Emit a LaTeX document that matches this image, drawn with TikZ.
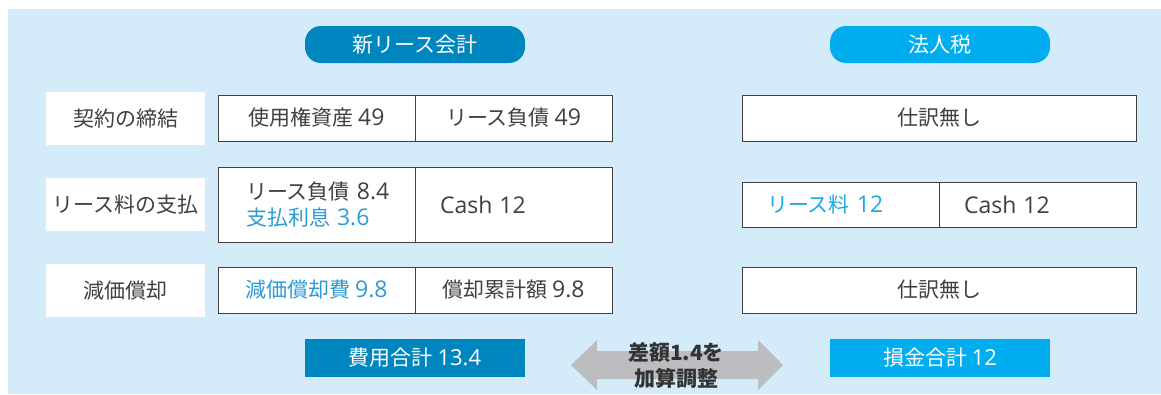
\documentclass[tikz,border=0pt]{standalone}
\usepackage{fontspec}
\setmainfont{Noto Sans CJK JP}
\newfontfamily\latn{Open Sans}
\newcommand{\lnum}[2][23]{{\latn\fontsize{#1}{26}\selectfont #2}}
\definecolor{bgblue}{HTML}{D4ECF9}
\definecolor{leasedark}{HTML}{0086BE}
\definecolor{taxcyan}{HTML}{00AEEF}
\definecolor{linegray}{HTML}{404040}
\definecolor{txtgray}{HTML}{404040}
\definecolor{bluetxt}{HTML}{2E9BD6}
\definecolor{cyantxt}{HTML}{1BA8E5}
\definecolor{arrowgray}{HTML}{BCBDC0}
\begin{document}
\begin{tikzpicture}[x=1pt, y=-1pt, font=\fontsize{21}{26}\selectfont, every node/.style={outer sep=0pt, inner sep=0pt, anchor=north west, text=txtgray}, line join=miter,
    entry/.style={draw=linegray, line width=1pt, fill=white, minimum width=197pt, minimum height=46pt},
    rowhead/.style={fill=white, minimum width=159pt, minimum height=53pt},
    pill/.style={rounded corners=16pt, minimum width=220pt, minimum height=37pt, text=white},
    total/.style={minimum width=220pt, minimum height=38pt, text=white}]
        \useasboundingbox (0,0) rectangle (1161,394);
        \fill[bgblue] (8,9) rectangle (1161,394);
        \node[pill, fill=leasedark] (newhead) at (305,26) {新リース会計};
        \node[pill, fill=taxcyan] (taxhead) at (830,26) {法人税};
        \node[rowhead] (rconclude) at (46,92) {契約の締結};
        \node[rowhead] (rpay) at (46,178) {リース料の支払};
        \node[rowhead] (rdep) at (46,264) {減価償却};
        \node[entry] (n1a) at (218,95) {使用権資産 \lnum{49}};
        \node[entry] (n1b) at (415,95) {リース負債 \lnum{49}};
        \node[entry, minimum height=75pt, text width=141pt, inner xsep=28pt, align=left] (n2a) at (218,167) {\mbox{リース負債 \lnum{8.4}}\\\mbox{\textcolor{bluetxt}{支払利息 \lnum{3.6}}}};
        \node[entry, minimum height=75pt, text width=147pt, inner xsep=25pt, align=left] (n2b) at (415,167) {\lnum{Cash 12}};
        \node[entry, text=bluetxt] (n3a) at (218,267) {減価償却費 \lnum{9.8}};
        \node[entry] (n3b) at (415,267) {償却累計額 \lnum{9.8}};
        \node[entry, minimum width=394pt] (t1) at (742,95) {仕訳無し};
        \node[entry, minimum height=45pt, text width=147pt, inner xsep=25pt, align=left, text=cyantxt] (t2a) at (742,182) {リース料 \lnum{12}};
        \node[entry, minimum height=45pt, text width=147pt, inner xsep=25pt, align=left] (t2b) at (939,182) {\lnum{Cash 12}};
        \node[entry, minimum width=394pt] (t3) at (742,267) {仕訳無し};
        \node[total, fill=leasedark] (newsum) at (305,339) {費用合計 \lnum[22]{13.4}};
        \node[total, fill=taxcyan] (taxsum) at (830,339) {損金合計 \lnum[22]{12}};
        \coordinate (gapl) at (571,365);
        \fill[arrowgray] (gapl) -- ++(26,-25) -- ++(0,11) -- ++(161,0) -- ++(0,-11) -- ++(25,25) -- ++(-25,25) -- ++(0,-11) -- ++(-161,0) -- ++(0,11) -- cycle;
        \node[anchor=center, align=center, text=black!80, font=\fontsize{21}{26}\selectfont\bfseries] (gap) at (676,366) {差額1.4を\\加算調整};
    \end{tikzpicture}
\end{document}
